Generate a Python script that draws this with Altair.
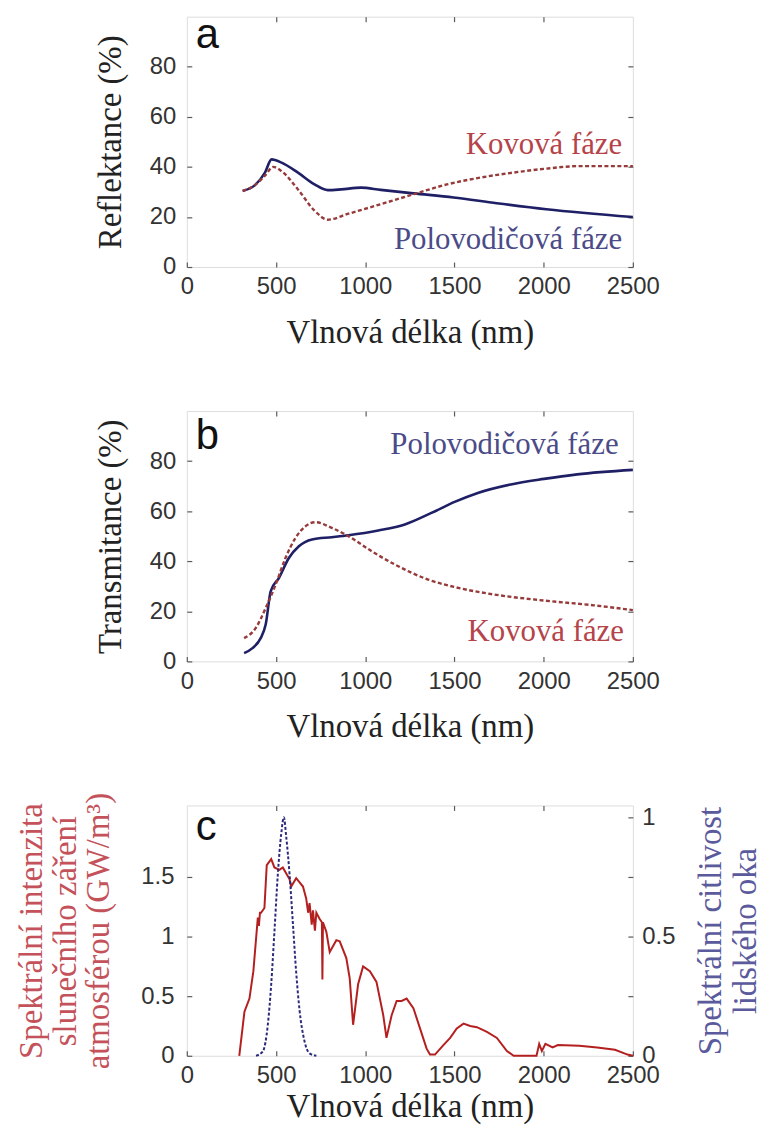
import altair as alt
import pandas as pd

# ---------------- data ----------------
x_ticks = [0, 500, 1000, 1500, 2000, 2500]
x_inner_ticks = [500, 1000, 1500, 2000]
pct_ticks = [0, 20, 40, 60, 80]

# panel a – reflectance
a_semi_x = [313, 382, 438, 475, 531, 623, 716, 790, 865, 976, 1087, 1273, 1495, 1737, 2015, 2500]
a_semi_y = [30.4, 32.7, 37.7, 43.0, 41.7, 37.7, 33.0, 30.7, 31.0, 31.7, 30.8, 29.4, 27.8, 25.5, 23.1, 20.0]
a_met_x = [313, 382, 438, 484, 531, 623, 716, 790, 902, 1087, 1273, 1458, 1644, 1829, 2015, 2200, 2500]
a_met_y = [30.4, 32.7, 36.5, 40.0, 38.3, 31.0, 22.5, 18.9, 21.2, 25.1, 29.1, 33.0, 35.7, 37.7, 39.3, 40.3, 40.3]

# panel b – transmittance
b_semi_x = [321, 368, 414, 442, 470, 516, 572, 628, 702, 813, 906, 1073, 1222, 1371, 1501, 1631, 1816, 2002, 2188, 2500]
b_semi_y = [3.3, 5.3, 9.3, 14.7, 28.0, 33.3, 41.3, 46.0, 48.7, 49.6, 50.4, 52.3, 54.7, 59.3, 63.7, 67.3, 70.7, 72.9, 74.7, 76.5]
b_met_x = [321, 386, 442, 498, 553, 609, 665, 721, 813, 906, 1036, 1166, 1352, 1538, 1724, 2002, 2281, 2500]
b_met_y = [9.3, 13.3, 21.3, 30.7, 41.3, 49.3, 54.0, 55.6, 53.3, 50.0, 44.0, 38.7, 32.7, 29.1, 26.7, 24.3, 22.4, 20.5]

# panel c – solar spectrum (left axis) and eye sensitivity (right axis)
c_sun_x = [294, 323, 351, 373, 398, 404, 410, 416, 435, 448, 473, 491, 519, 538, 576, 585, 613,
           651, 669, 680, 688, 700, 707, 718, 726, 744, 757, 760, 763, 782, 801, 838, 857, 894,
           913, 932, 960, 988, 1026, 1063, 1101, 1119, 1148, 1176, 1204, 1232, 1270, 1307, 1344,
           1363, 1391, 1438, 1476, 1513, 1551, 1588, 1626, 1682, 1738, 1794, 1832, 1900, 1960,
           1975, 1990, 2010, 2050, 2080, 2200, 2300, 2400, 2470, 2500]
c_sun_y = [0.0, 0.37, 0.48, 0.71, 1.16, 1.09, 1.20, 1.20, 1.24, 1.60, 1.65, 1.58, 1.56, 1.58, 1.48, 1.42, 1.49,
           1.42, 1.32, 1.20, 1.28, 1.10, 1.22, 1.05, 1.20, 1.15, 1.12, 0.64, 1.12, 1.04, 0.87, 0.97, 0.96, 0.82,
           0.65, 0.26, 0.60, 0.75, 0.71, 0.62, 0.34, 0.15, 0.34, 0.46, 0.46, 0.48, 0.40, 0.23, 0.06,
           0.01, 0.01, 0.09, 0.15, 0.23, 0.27, 0.25, 0.24, 0.20, 0.15, 0.04, 0.0, 0.0, 0.0,
           0.10, 0.04, 0.10, 0.07, 0.09, 0.085, 0.07, 0.05, 0.01, 0.0]
c_eye_x = [388, 426, 454, 473, 491, 510, 529, 544, 557, 576, 595, 613, 632, 660, 688, 726]
c_eye_y = [0.0, 0.018, 0.13, 0.30, 0.52, 0.76, 0.93, 1.0, 0.92, 0.76, 0.55, 0.35, 0.19, 0.06, 0.01, 0.0]
sun_ticks = [0, 0.5, 1, 1.5]
eye_ticks = [0, 0.25, 0.5, 0.75, 1]

# annotations (data coordinates)
a_labels = pd.DataFrame({"x": [2440, 2440], "y": [45.0, 7.0],
                         "t": ["Kovová fáze", "Polovodičová fáze"], "c": ["met", "semi"]})
b_labels = pd.DataFrame({"x": [2420, 2450], "y": [83.0, 8.0],
                         "t": ["Polovodičová fáze", "Kovová fáze"], "c": ["semi", "met"]})
letters = {"a": (50, 87.5), "b": (50, 85.0), "c": (50, 1.81)}

# ---------------- styling ----------------
SANS = "Liberation Sans"
SERIF = "Liberation Serif"
W, H = 449, 252
NAVY = "#1f1f66"
RED_D = "#973a3a"
TXT_RED = "#b5444a"
TXT_BLUE = "#4b4b88"
SUN = "#b3201f"
EYE = "#2b2b7c"
FRAME = "#5a5a5a"
TICK_LEN = 5
PLAIN = "'' + datum.value"


def tick_style():
    return dict(tickSize=TICK_LEN, tickColor=FRAME, tickWidth=1.2, offset=-TICK_LEN,
                domain=False, grid=False, labelFont=SANS, labelFontSize=24, labelColor="#333333",
                titleFont=SERIF, titleFontSize=33, titleFontWeight="normal", titleColor="#222222",
                labelFlush=False, labelOverlap=False)


xdom = alt.Scale(domain=[0, 2500], nice=False, zero=False)


def x_bottom(tp):
    return alt.Axis(orient="bottom", values=x_ticks, title="Vlnová délka (nm)", labelExpr=PLAIN,
                    labelPadding=8, titlePadding=tp, **tick_style())


def x_top():
    return alt.Axis(orient="top", values=x_inner_ticks, title=None, labels=False, **tick_style())


def y_left(values, title, lp, tp, **kw):
    st = tick_style()
    st.update(kw)
    return alt.Axis(orient="left", values=values, title=title, labelExpr=PLAIN,
                    labelPadding=lp, titlePadding=tp, **st)


def y_right_blank(values):
    return alt.Axis(orient="right", values=values, title=None, labels=False, minExtent=0,
                    **tick_style())


def line_df(xs, ys):
    return pd.DataFrame({"x": xs, "y": ys, "i": list(range(len(xs)))})


def letter_layer(letter, ysc):
    lx, ly = letters[letter]
    return alt.Chart(pd.DataFrame({"x": [lx], "y": [ly], "t": [letter]})).mark_text(
        font=SANS, fontSize=42, align="left", baseline="alphabetic", color="#111111",
        clip=True).encode(
        x=alt.X("x:Q", scale=xdom, axis=None),
        y=alt.Y("y:Q", scale=ysc, axis=None),
        text="t:N")


def pct_panel(letter, semi_x, semi_y, met_x, met_y, labels, ytitle):
    ysc = alt.Scale(domain=[0, 100], nice=False)
    semi = alt.Chart(line_df(semi_x, semi_y)).mark_line(
        color=NAVY, strokeWidth=2.6, interpolate="monotone").encode(
        x=alt.X("x:Q", scale=xdom, axis=x_bottom(18)),
        y=alt.Y("y:Q", scale=ysc, axis=y_left(pct_ticks, ytitle, 11, 22)),
        order="i:Q")
    met = alt.Chart(line_df(met_x, met_y)).mark_line(
        color=RED_D, strokeWidth=2.4, strokeDash=[4, 2.5], interpolate="monotone").encode(
        x=alt.X("x:Q", scale=xdom, axis=x_top()),
        y=alt.Y("y:Q", scale=ysc, axis=y_right_blank(pct_ticks)),
        order="i:Q")
    txt = alt.Chart(labels).mark_text(font=SERIF, fontSize=31, align="right",
                                      baseline="alphabetic").encode(
        x=alt.X("x:Q", scale=xdom, axis=None),
        y=alt.Y("y:Q", scale=ysc, axis=None),
        text="t:N",
        color=alt.Color("c:N", scale=alt.Scale(domain=["met", "semi"], range=[TXT_RED, TXT_BLUE]),
                        legend=None))
    return alt.layer(semi, met, txt, letter_layer(letter, ysc)).resolve_axis(
        x="independent", y="independent").properties(width=W, height=H)


panel_a = pct_panel("a", a_semi_x, a_semi_y, a_met_x, a_met_y, a_labels, "Reflektance (%)")
panel_b = pct_panel("b", b_semi_x, b_semi_y, b_met_x, b_met_y, b_labels, "Transmitance (%)")

# panel c
sun_sc = alt.Scale(domain=[0, 2.1], nice=False)
eye_sc = alt.Scale(domain=[0, 1.05], nice=False)
sun = alt.Chart(line_df(c_sun_x, c_sun_y)).mark_line(color=SUN, strokeWidth=2.0).encode(
    x=alt.X("x:Q", scale=xdom, axis=x_bottom(3)),
    y=alt.Y("y:Q", scale=sun_sc,
            axis=y_left(sun_ticks, ["Spektrální intenzita", "slunečního záření", "atmosférou (GW/m³)"],
                        13, 25, titleColor="#c4525a", titleFontSize=33, titleLineHeight=34)),
    order="i:Q")
eye_axis_style = tick_style()
eye_axis_style.update(titleColor="#5a5a9c", titleFontSize=33)
eye = alt.Chart(line_df(c_eye_x, c_eye_y)).mark_line(
    color=EYE, strokeWidth=2.0, strokeDash=[3, 2], interpolate="monotone").encode(
    x=alt.X("x:Q", scale=xdom, axis=x_top()),
    y=alt.Y("y:Q", scale=eye_sc,
            axis=alt.Axis(orient="right", values=eye_ticks,
                          labelExpr="datum.value % 0.5 === 0 ? '' + datum.value : ''",
                          title=["Spektrální citlivost", "lidského oka"], titleAngle=270,
                          titleLineHeight=35, labelPadding=9, titlePadding=18, **eye_axis_style)),
    order="i:Q")
panel_c = alt.layer(sun, eye, letter_layer("c", sun_sc)).resolve_scale(y="independent").resolve_axis(
    x="independent", y="independent").properties(width=W, height=H)

chart = alt.vconcat(panel_a, panel_b, panel_c, spacing=145, bounds="flush").properties(
    padding={"left": 7, "top": 3, "right": 0, "bottom": 4}
).configure_view(stroke=FRAME, strokeWidth=1.4).configure(background="white")

chart.save("out.html", embed_options={"renderer": "svg", "actions": False})
